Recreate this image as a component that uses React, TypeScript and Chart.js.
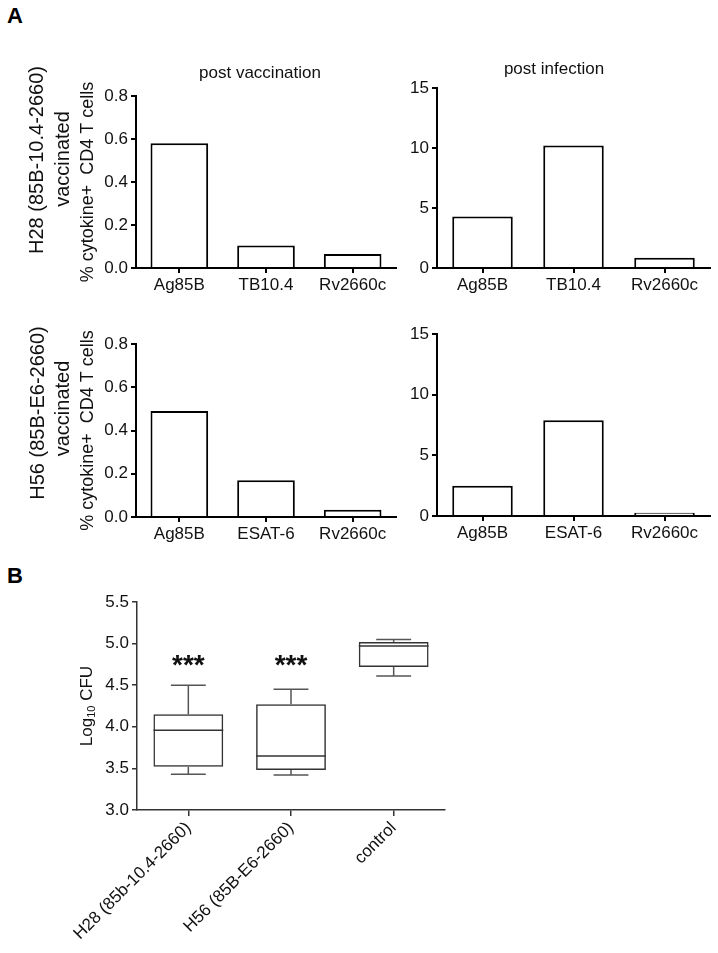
import React, { useEffect, useRef } from 'react';
import { Chart, registerables } from 'chart.js';

Chart.register(...registerables);

const FONT = '"Liberation Sans", Arial, Helvetica, sans-serif';
const TEXT = '#111';

// ---------- Panel A data ----------
const h28Antigens = ['Ag85B', 'TB10.4', 'Rv2660c'];
const h56Antigens = ['Ag85B', 'ESAT-6', 'Rv2660c'];
const h28PostVaccination = [0.58, 0.105, 0.065];
const h28PostInfection = [4.3, 10.2, 0.86];
const h56PostVaccination = [0.49, 0.17, 0.034];
const h56PostInfection = [2.5, 7.9, 0.27];
const vaccinationAxis = [0, 0.8, 0.2]; // min, max, step
const infectionAxis = [0, 15, 5];

// ---------- Panel B data ----------
const groups = ['H28 (85b-10.4-2660)', 'H56 (85B-E6-2660)', 'control'];
const cfuMin = [3.43, 3.42, 4.61];
const cfuQ1 = [3.52, 3.48, 4.72];
const cfuMedian = [3.96, 3.65, 4.97];
const cfuQ3 = [4.15, 4.27, 5.02];
const cfuMax = [4.5, 4.45, 5.05];
const significance = ['***', '***', ''];
const significanceLevel = 4.78;
const cfuAxis = [3, 5.5, 0.5];

type TextItem = { text: string; font: string; dx: number; dy: number; rotate?: number };

function textPlugin(items: TextItem[]) {
  return {
    id: 'texts',
    afterDraw(chart: any) {
      const { ctx, chartArea } = chart;
      items.forEach((it) => {
        ctx.save();
        ctx.translate(chartArea.left + it.dx, chartArea.top + it.dy);
        if (it.rotate) ctx.rotate(it.rotate);
        ctx.font = it.font;
        ctx.fillStyle = TEXT;
        ctx.textAlign = 'center';
        ctx.textBaseline = 'middle';
        ctx.fillText(it.text, 0, 0);
        ctx.restore();
      });
    },
  };
}

type BarOpts = {
  labels: string[];
  values: number[];
  axis: number[];
  decimals: number;
  pad: { left: number; right: number; top: number; bottom: number };
  yWidth: number;
  xHeight: number;
  yTitle?: string;
  texts: TextItem[];
};

function barConfig(o: BarOpts): any {
  return {
    type: 'bar',
    data: {
      labels: o.labels,
      datasets: [
        {
          data: o.values,
          backgroundColor: '#ffffff',
          borderColor: '#000000',
          borderWidth: 2,
          barPercentage: 0.665,
          categoryPercentage: 1,
        },
      ],
    },
    options: {
      responsive: false,
      animation: false,
      layout: { padding: o.pad },
      plugins: { legend: { display: false }, tooltip: { enabled: false }, title: { display: false } },
      scales: {
        x: {
          offset: true,
          grid: { drawOnChartArea: false, offset: false, tickLength: 5, color: '#000', lineWidth: 2 },
          border: { display: true, color: '#000', width: 2 },
          ticks: { color: TEXT, font: { family: FONT, size: 17 }, padding: 2, maxRotation: 0, autoSkip: false },
          afterFit: (s: any) => {
            s.height = o.xHeight;
          },
        },
        y: {
          min: o.axis[0],
          max: o.axis[1],
          grid: { drawOnChartArea: false, tickLength: 5, color: '#000', lineWidth: 2 },
          border: { display: true, color: '#000', width: 2 },
          ticks: {
            stepSize: o.axis[2],
            color: TEXT,
            font: { family: FONT, size: 17 },
            padding: 3,
            callback: (v: any) => Number(v).toFixed(o.decimals),
          },
          title: o.yTitle
            ? { display: true, text: o.yTitle, color: TEXT, font: { family: FONT, size: 18 }, padding: { top: 0, bottom: 0 } }
            : { display: false },
          afterFit: (s: any) => {
            s.width = o.yWidth;
          },
        },
      },
    },
    plugins: [textPlugin(o.texts)],
  };
}

function boxConfig(): any {
  const boxPlugin = {
    id: 'boxParts',
    afterDatasetsDraw(chart: any) {
      const { ctx } = chart;
      const y = chart.scales.y;
      const meta = chart.getDatasetMeta(0);
      ctx.save();
      ctx.lineWidth = 1.5;
      meta.data.forEach((bar: any, i: number) => {
        const x = bar.x;
        const half = bar.width / 2;
        const cap = bar.width * 0.25;
        const line = (x1: number, y1: number, x2: number, y2: number, color: string) => {
          ctx.strokeStyle = color;
          ctx.beginPath();
          ctx.moveTo(x1, y1);
          ctx.lineTo(x2, y2);
          ctx.stroke();
        };
        const yMed = y.getPixelForValue(cfuMedian[i]);
        line(x - half, yMed, x + half, yMed, '#333');
        const yQ3 = y.getPixelForValue(cfuQ3[i]);
        const yMax = y.getPixelForValue(cfuMax[i]);
        line(x, yQ3, x, yMax, '#555');
        line(x - cap, yMax, x + cap, yMax, '#555');
        const yQ1 = y.getPixelForValue(cfuQ1[i]);
        const yMin = y.getPixelForValue(cfuMin[i]);
        line(x, yQ1, x, yMin, '#555');
        line(x - cap, yMin, x + cap, yMin, '#555');
        if (significance[i]) {
          ctx.fillStyle = TEXT;
          ctx.font = `bold 28px ${FONT}`;
          ctx.textAlign = 'center';
          ctx.textBaseline = 'alphabetic';
          ctx.fillText(significance[i], x, y.getPixelForValue(significanceLevel) + 12);
        }
      });
      ctx.restore();
    },
    afterDraw(chart: any) {
      const { ctx, chartArea } = chart;
      ctx.save();
      ctx.translate(chartArea.left - 50, (chartArea.top + chartArea.bottom) / 2);
      ctx.rotate(-Math.PI / 2);
      ctx.fillStyle = TEXT;
      ctx.textBaseline = 'middle';
      ctx.textAlign = 'left';
      const big = `17px ${FONT}`;
      const small = `11px ${FONT}`;
      ctx.font = big;
      const w1 = ctx.measureText('Log').width;
      const w3 = ctx.measureText(' CFU').width;
      ctx.font = small;
      const w2 = ctx.measureText('10').width;
      let x0 = -(w1 + w2 + w3) / 2;
      ctx.font = big;
      ctx.fillText('Log', x0, 0);
      x0 += w1;
      ctx.font = small;
      ctx.fillText('10', x0, 5);
      x0 += w2;
      ctx.font = big;
      ctx.fillText(' CFU', x0, 0);
      ctx.restore();
    },
  };
  return {
    type: 'bar',
    data: {
      labels: groups,
      datasets: [
        {
          data: groups.map((_, i) => [cfuQ1[i], cfuQ3[i]]),
          backgroundColor: 'rgba(255,255,255,0)',
          borderColor: '#333',
          borderWidth: 1.5,
          borderSkipped: false,
          barPercentage: 0.68,
          categoryPercentage: 1,
        },
      ],
    },
    options: {
      responsive: false,
      animation: false,
      layout: { padding: { left: 73, right: 25, top: 22, bottom: 13 } },
      plugins: { legend: { display: false }, tooltip: { enabled: false } },
      scales: {
        x: {
          offset: true,
          grid: { drawOnChartArea: false, offset: false, tickLength: 6, color: '#333', lineWidth: 1.5 },
          border: { display: true, color: '#333', width: 1.5 },
          ticks: {
            color: TEXT,
            font: { family: FONT, size: 17 },
            padding: 2,
            minRotation: 45,
            maxRotation: 45,
            autoSkip: false,
          },
          afterFit: (s: any) => {
            s.height = 130;
          },
        },
        y: {
          min: cfuAxis[0],
          max: cfuAxis[1],
          grid: { drawOnChartArea: false, tickLength: 5, color: '#333', lineWidth: 1.5 },
          border: { display: true, color: '#333', width: 1.5 },
          ticks: {
            stepSize: cfuAxis[2],
            color: TEXT,
            font: { family: FONT, size: 17 },
            padding: 3,
            callback: (v: any) => Number(v).toFixed(1),
          },
          afterFit: (s: any) => {
            s.width = 64;
          },
        },
      },
    },
    plugins: [boxPlugin],
  };
}

function ChartCanvas(props: { left: number; top: number; width: number; height: number; make: () => any }) {
  const ref = useRef<HTMLCanvasElement>(null);
  useEffect(() => {
    const chart = new Chart(ref.current as HTMLCanvasElement, props.make());
    return () => chart.destroy();
  }, []);
  return (
    <canvas
      ref={ref}
      width={props.width}
      height={props.height}
      style={{ position: 'absolute', left: props.left, top: props.top, width: props.width, height: props.height }}
    />
  );
}

const ROW_FONT = `20px ${FONT}`;
const TITLE_FONT = `17px ${FONT}`;
const YTITLE = '% cytokine+  CD4 T cells';

export default function App() {
  return (
    <div
      style={{
        position: 'absolute',
        left: 0,
        top: 0,
        width: 718,
        height: 953,
        overflow: 'hidden',
        background: '#fff',
      }}
    >
      <div style={{ position: 'absolute', left: 7, top: 5, font: `bold 22px ${FONT}`, lineHeight: 1, color: '#000' }}>A</div>
      <div style={{ position: 'absolute', left: 7, top: 565, font: `bold 22px ${FONT}`, lineHeight: 1, color: '#000' }}>B</div>

      <ChartCanvas
        left={0}
        top={40}
        width={405}
        height={270}
        make={() =>
          barConfig({
            labels: h28Antigens,
            values: h28PostVaccination,
            axis: vaccinationAxis,
            decimals: 1,
            pad: { left: 77, right: 9, top: 56, bottom: 10 },
            yWidth: 59,
            xHeight: 32,
            yTitle: YTITLE,
            texts: [
              { text: 'post vaccination', font: TITLE_FONT, dx: 124, dy: -23 },
              { text: 'H28 (85B-10.4-2660)', font: ROW_FONT, dx: -99, dy: 64, rotate: -Math.PI / 2 },
              { text: 'vaccinated', font: ROW_FONT, dx: -73, dy: 63, rotate: -Math.PI / 2 },
            ],
          })
        }
      />
      <ChartCanvas
        left={390}
        top={40}
        width={328}
        height={270}
        make={() =>
          barConfig({
            labels: h28Antigens,
            values: h28PostInfection,
            axis: infectionAxis,
            decimals: 0,
            pad: { left: 7, right: 8, top: 48, bottom: 10 },
            yWidth: 40,
            xHeight: 32,
            texts: [{ text: 'post infection', font: TITLE_FONT, dx: 117, dy: -19 }],
          })
        }
      />
      <ChartCanvas
        left={0}
        top={310}
        width={405}
        height={260}
        make={() =>
          barConfig({
            labels: h56Antigens,
            values: h56PostVaccination,
            axis: vaccinationAxis,
            decimals: 1,
            pad: { left: 77, right: 9, top: 34, bottom: 21 },
            yWidth: 59,
            xHeight: 32,
            yTitle: YTITLE,
            texts: [
              { text: 'H56 (85B-E6-2660)', font: ROW_FONT, dx: -98, dy: 69, rotate: -Math.PI / 2 },
              { text: 'vaccinated', font: ROW_FONT, dx: -73, dy: 64.5, rotate: -Math.PI / 2 },
            ],
          })
        }
      />
      <ChartCanvas
        left={390}
        top={310}
        width={328}
        height={260}
        make={() =>
          barConfig({
            labels: h56Antigens,
            values: h56PostInfection,
            axis: infectionAxis,
            decimals: 0,
            pad: { left: 7, right: 8, top: 24, bottom: 22 },
            yWidth: 40,
            xHeight: 32,
            texts: [],
          })
        }
      />
      <ChartCanvas left={0} top={580} width={470} height={373} make={boxConfig} />
    </div>
  );
}
